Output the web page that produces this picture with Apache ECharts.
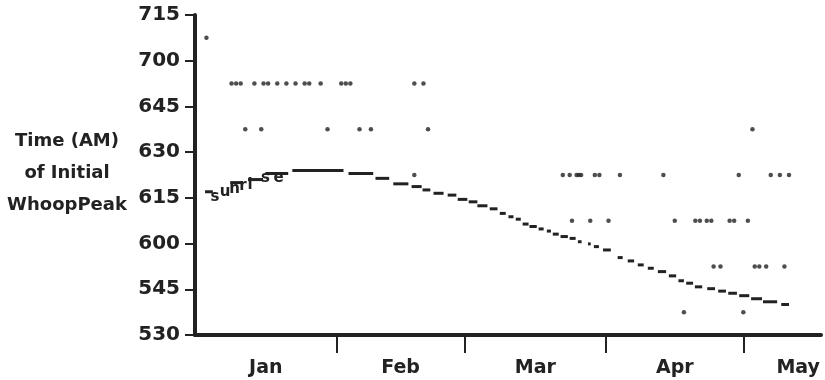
<!DOCTYPE html>
<html>
<head>
<meta charset="utf-8">
<script src="https://cdn.jsdelivr.net/npm/echarts@6/dist/echarts.min.js"></script>
<style>
  html, body { margin: 0; padding: 0; background: #fff; }
  #chart { width: 825px; height: 380px; }
</style>
</head>
<body>
<div id="chart"></div>
<script>
// days counted from Jan 1, times in minutes after midnight
const monthNames = ['Jan', 'Feb', 'Mar', 'Apr', 'May'];
const monthStartDays = [31, 59, 90, 120];
const monthLabelDays = [15.5, 45, 74.5, 105, 132];

const yTickLabels = ['530', '545', '600', '615', '630', '645', '700', '715'];

// sunrise drawn as short flat dashes: day range + time
const sunriseFrom = [2.2, 7.7, 11.6, 15.4, 21.3, 33.6, 39.5, 43.4, 47.4, 49.8, 52.2, 55.3, 57.5, 59.9, 61.8, 64.5, 66.7, 68.6, 70.2, 71.7, 73.2, 75.2, 77.0, 78.3, 80.0, 82.0, 83.8, 86.0, 87.3, 89.3, 92.5, 94.7, 96.9, 99.1, 101.3, 103.7, 105.8, 107.5, 109.4, 112.1, 114.5, 116.7, 119.1, 121.7, 124.3, 128.3];
const sunriseTo   = [3.9, 10.5, 14.9, 20.4, 32.5, 39.0, 42.5, 46.7, 49.6, 51.5, 54.4, 57.2, 59.6, 61.8, 64.0, 66.2, 68.0, 69.7, 71.3, 73.0, 74.8, 76.3, 77.9, 79.6, 81.6, 83.3, 84.6, 86.6, 88.4, 91.0, 93.6, 96.1, 98.2, 100.4, 103.1, 105.3, 107.0, 109.0, 111.0, 113.8, 116.2, 118.6, 121.3, 124.1, 127.4, 130.0];
const sunriseTime = [377, 380, 381, 383, 384, 383, 381.4, 379.6, 378.7, 377.6, 376.5, 375.9, 374.5, 373.7, 372.4, 371.4, 369.9, 368.8, 368.0, 366.4, 365.6, 364.8, 364.1, 363.1, 362.3, 361.7, 360.6, 359.9, 359.0, 357.9, 355.4, 354.3, 353.0, 351.9, 350.8, 349.4, 347.8, 347.0, 345.8, 345.2, 344.4, 343.7, 342.9, 341.9, 340.9, 340.0];

// initial whoop peaks, grouped by time level
const peakLevels = [427.5, 412.5, 397.5, 382.5, 367.5, 352.5, 337.5];
const peakDays = [
    [2.5],
    [8, 9, 10, 13, 15, 16, 18, 20, 22, 24, 25, 27.5, 32, 33, 34, 48, 50],
    [11, 14.5, 29, 36, 38.5, 51, 122],
    [48, 80.5, 82, 83.5, 84, 84.5, 87.5, 88.5, 93, 102.5, 119, 126, 128, 130],
    [82.5, 86.5, 90.5, 105, 109.5, 110.5, 112, 113, 117, 118, 121],
    [113.5, 115, 122.5, 123.5, 125, 129],
    [107, 120]
];

const ink = '#222';
const fontFam = '"DejaVu Sans", sans-serif';

let sunriseData = sunriseFrom.map((d, i) => [d, sunriseTo[i], sunriseTime[i]]);
let peakData = [];
peakLevels.forEach((lvl, i) => {
    peakDays[i].forEach(d => peakData.push([d, lvl]));
});

// "sunrise" letters climbing along the curve
let letters = [
    ['s', 215, 197], ['u', 225, 192], ['n', 234.5, 189.5], ['r', 243, 186.5],
    ['i', 250, 185.5], ['s', 265.5, 178], ['e', 278.5, 178]
];

let chart = echarts.init(document.getElementById('chart'));
chart.setOption({
    animation: false,
    backgroundColor: '#fff',
    grid: { left: 195, right: 4, top: 15, bottom: 45 },
    xAxis: {
        type: 'value',
        min: 0,
        max: 137,
        splitLine: { show: false },
        axisLine: { lineStyle: { color: ink, width: 4 } },
        axisTick: {
            customValues: monthStartDays,
            length: 18,
            lineStyle: { color: ink, width: 2 }
        },
        axisLabel: {
            customValues: monthLabelDays,
            formatter: function (v) {
                return monthNames[monthLabelDays.indexOf(v)];
            },
            margin: 24,
            color: ink,
            fontFamily: fontFam,
            fontWeight: 'bold',
            fontSize: 19
        }
    },
    yAxis: {
        type: 'value',
        min: 330,
        max: 435,
        interval: 15,
        splitLine: { show: false },
        axisLine: { show: true, lineStyle: { color: ink, width: 4 } },
        axisTick: { show: true, length: 10, lineStyle: { color: ink, width: 2 } },
        axisLabel: {
            formatter: function (v) {
                return yTickLabels[Math.round((v - 330) / 15)];
            },
            margin: 15,
            color: ink,
            fontFamily: fontFam,
            fontWeight: 'bold',
            fontSize: 20
        }
    },
    graphic: [
        {
            type: 'text',
            x: 67, y: 173,
            style: {
                text: 'Time (AM)\nof Initial\nWhoopPeak',
                align: 'center',
                verticalAlign: 'middle',
                lineHeight: 32,
                fill: ink,
                font: 'bold 18px "DejaVu Sans", sans-serif'
            }
        }
    ].concat(letters.map(l => ({
        type: 'text',
        x: l[1], y: l[2],
        style: {
            text: l[0],
            align: 'center',
            verticalAlign: 'middle',
            fill: ink,
            font: 'bold 15px "DejaVu Sans", sans-serif'
        }
    }))),
    series: [
        {
            name: 'sunrise',
            type: 'custom',
            data: sunriseData,
            encode: { x: [0, 1], y: 2 },
            renderItem: function (params, api) {
                let a = api.coord([api.value(0), api.value(2)]);
                let b = api.coord([api.value(1), api.value(2)]);
                return {
                    type: 'rect',
                    shape: { x: a[0], y: a[1] - 1.5, width: b[0] - a[0], height: 3 },
                    style: { fill: ink }
                };
            }
        },
        {
            name: 'peaks',
            type: 'scatter',
            data: peakData,
            symbol: 'circle',
            symbolSize: 4.5,
            itemStyle: { color: ink }
        }
    ]
});
</script>
</body>
</html>
